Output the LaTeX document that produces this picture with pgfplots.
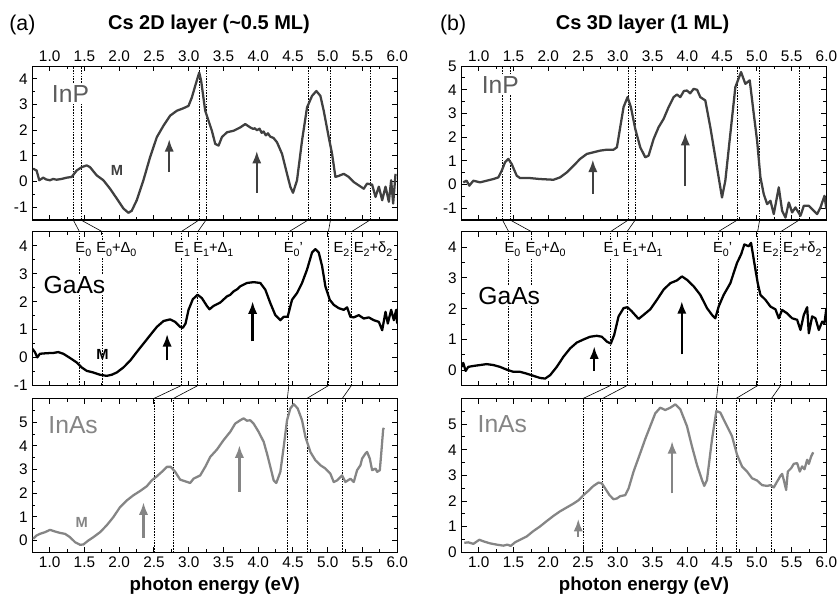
\documentclass[border=0pt]{standalone}
\usepackage{fontspec}
\setmainfont{Liberation Sans}
\usepackage{pgfplots}
\pgfplotsset{compat=1.18}
\usetikzlibrary{arrows.meta}
\definecolor{inpc}{gray}{0.25}
\definecolor{inasc}{gray}{0.52}
\newcommand{\sub}[1]{\raisebox{-0.55ex}{\fontsize{8}{8}\selectfont #1}}
\tikzset{
  vline/.style={black, line width=0.45pt, dash pattern=on 1.2pt off 0.9pt},
  conn/.style={black, line width=0.45pt},
  curve/.style={line width=1.7pt, line join=round},
  arr/.style={line width=1.8pt, -{Latex[length=9.5pt,width=7pt]}},
  mat/.style={font=\fontsize{18.5}{18.5}\selectfont, fill=white, inner sep=1pt, anchor=base west},
  elab/.style={font=\fontsize{11}{11}\selectfont, fill=white, inner sep=1.2pt, anchor=base west},
  mlab/.style={font=\fontsize{11}{11}\selectfont\bfseries},
}
\pgfplotsset{
  panel/.style={
    scale only axis, width=273.7pt, height=115.4pt,
    xmin=0.75, xmax=6.0,
    xtick={1,1.5,2,2.5,3,3.5,4,4.5,5,5.5,6},
    minor xtick={1.25,1.75,2.25,2.75,3.25,3.75,4.25,4.75,5.25,5.75},
    tick align=inside, xtick pos=both, ytick pos=both, yticklabel pos=left,
    major tick length=3.8pt, minor tick length=2.3pt,
    tick style={black, line width=0.7pt},
    axis line style={line width=0.9pt},
    tick label style={font=\fontsize{11.5}{12}\selectfont},
    /pgf/number format/assume math mode=true,
    xticklabel style={/pgf/number format/.cd, fixed, fixed zerofill, precision=1},
    clip=true,
  },
  toppanel/.style={panel, xticklabel pos=right},
  midpanel/.style={panel, xticklabels={}},
  botpanel/.style={panel, xticklabel pos=left,
    xlabel={photon energy (eV)},
    xlabel style={font=\fontsize{14}{14}\selectfont\bfseries}},
}
\begin{document}
\begin{tikzpicture}
\useasboundingbox (0,0) rectangle (630pt,449.25pt);

% ================= LEFT: InP =================
\begin{axis}[toppanel, at={(24.2pt,284.25pt)}, anchor=south west,
  ymin=-1.5, ymax=4.5, ytick={-1,0,1,2,3,4}, minor ytick={-0.5,0.5,1.5,2.5,3.5}]
\foreach \e in {1.34,1.45,3.15,3.25,4.72,5.04,5.61}{\edef\tmp{\noexpand\draw[vline] (axis cs:\e,-1.5) -- (axis cs:\e,4.5);}\tmp}
\coordinate (aP1) at (axis cs:1.34,-1.5);
\coordinate (aP2) at (axis cs:1.45,-1.5);
\coordinate (aP3) at (axis cs:3.15,-1.5);
\coordinate (aP4) at (axis cs:3.25,-1.5);
\coordinate (aP5) at (axis cs:4.72,-1.5);
\coordinate (aP6) at (axis cs:5.04,-1.5);
\coordinate (aP7) at (axis cs:5.61,-1.5);
\node[mat, text=inpc!85!white] at (axis cs:1.01,3.08) {InP};
\addplot[curve, inpc] coordinates {
(0.764,0.50) (0.812,0.43) (0.851,0.05) (0.908,0.15) (0.95,0.08) (1.005,0.05) (1.05,0.10)
(1.101,0.07) (1.17,0.10) (1.245,0.15) (1.317,0.18) (1.389,0.43) (1.461,0.56) (1.533,0.63)
(1.581,0.56) (1.677,0.24) (1.773,0.05) (1.869,-0.28) (1.965,-0.66) (2.061,-1.05) (2.133,-1.22)
(2.181,-1.14) (2.253,-0.73) (2.349,0.05) (2.445,0.95) (2.542,1.73) (2.638,2.18) (2.734,2.57)
(2.830,2.76) (2.926,2.86) (2.998,2.95) (3.046,3.28) (3.094,3.73) (3.152,4.25) (3.180,3.92)
(3.238,2.76) (3.286,2.37) (3.334,1.98) (3.382,1.47) (3.430,1.40) (3.478,1.73) (3.550,1.92)
(3.646,1.98) (3.742,2.11) (3.814,2.24) (3.886,2.11) (3.93,2.05) (3.95,2.08) (3.982,2.00)
(4.02,2.06) (4.05,1.90) (4.078,1.95) (4.11,1.80) (4.14,1.88) (4.174,1.75) (4.22,1.70)
(4.271,1.53) (4.343,1.08) (4.415,0.30) (4.463,-0.21) (4.501,-0.44) (4.559,0.05) (4.631,1.60)
(4.703,2.89) (4.775,3.34) (4.837,3.53) (4.895,3.34) (4.943,2.76) (5.015,1.73) (5.063,1.08)
(5.111,0.18) (5.159,0.22) (5.231,0.30) (5.303,0.18) (5.375,-0.02) (5.447,-0.15) (5.519,-0.28)
(5.567,-0.08) (5.639,-0.12) (5.688,-0.60) (5.736,-0.20) (5.784,-0.73) (5.832,-0.20) (5.880,-0.79)
(5.913,0.05) (5.942,-0.86) (5.976,0.30)};
\draw[arr, inpc] (axis cs:2.72,0.37) -- (axis cs:2.72,1.66);
\draw[arr, inpc] (axis cs:3.98,-0.44) -- (axis cs:3.98,1.2);
\node[mlab, text=inpc] at (axis cs:1.97,0.43) {M};
\end{axis}

% ================= LEFT: GaAs =================
\begin{axis}[midpanel, at={(24.2pt,160pt)}, anchor=south west,
  ymin=-1, ymax=4.5, ytick={-1,0,1,2,3,4}, minor ytick={-0.5,0.5,1.5,2.5,3.5}]
\foreach \e in {1.43,1.76,2.89,3.13,4.44,5.01,5.34}{\edef\tmp{\noexpand\draw[vline] (axis cs:\e,-1) -- (axis cs:\e,4.5);}\tmp}
\coordinate (aG1) at (axis cs:1.43,4.5);
\coordinate (aG2) at (axis cs:1.76,4.5);
\coordinate (aG3) at (axis cs:2.89,4.5);
\coordinate (aG4) at (axis cs:3.13,4.5);
\coordinate (aG5) at (axis cs:4.44,4.5);
\coordinate (aG6) at (axis cs:5.01,4.5);
\coordinate (aG7) at (axis cs:5.34,4.5);
\coordinate (aH3) at (axis cs:2.89,-1);
\coordinate (aH4) at (axis cs:3.13,-1);
\coordinate (aH5) at (axis cs:4.44,-1);
\coordinate (aH6) at (axis cs:5.01,-1);
\coordinate (aH7) at (axis cs:5.34,-1);
\node[elab] at (axis cs:1.345,3.77) {E\sub{0}};
\node[elab] at (axis cs:1.645,3.77) {E\sub{0}+Δ\sub{0}};
\node[elab] at (axis cs:2.768,3.77) {E\sub{1}};
\node[elab] at (axis cs:3.04,3.77) {E\sub{1}+Δ\sub{1}};
\node[elab] at (axis cs:4.344,3.77) {E\sub{0}'};
\node[elab] at (axis cs:5.057,3.77) {E\sub{2}};
\node[elab] at (axis cs:5.35,3.77) {E\sub{2}+δ\sub{2}};
\node[mat] at (axis cs:0.89,2.29) {GaAs};
\addplot[curve, black] coordinates {
(0.75,0.32) (0.788,0.20) (0.822,0.01) (0.860,0.14) (0.957,0.16) (1.053,0.17) (1.125,0.20)
(1.197,0.14) (1.293,-0.01) (1.389,-0.17) (1.461,-0.35) (1.533,-0.47) (1.629,-0.53) (1.725,-0.61)
(1.821,-0.65) (1.893,-0.61) (1.965,-0.53) (2.061,-0.35) (2.157,-0.11) (2.253,0.20) (2.349,0.50)
(2.445,0.80) (2.542,1.10) (2.638,1.31) (2.734,1.37) (2.806,1.28) (2.878,1.10) (2.916,1.07)
(2.955,1.22) (2.998,1.71) (3.060,2.09) (3.128,2.25) (3.190,2.13) (3.262,1.85) (3.300,1.73)
(3.358,1.85) (3.454,1.97) (3.550,2.19) (3.600,2.25) (3.646,2.37) (3.70,2.45) (3.742,2.55) (3.838,2.67)
(3.935,2.70) (4.031,2.67) (4.103,2.43) (4.175,1.95) (4.247,1.52) (4.319,1.34) (4.367,1.46)
(4.424,1.46) (4.487,2.07) (4.559,2.31) (4.631,2.67) (4.703,3.15) (4.775,3.76) (4.823,3.88)
(4.871,3.76) (4.919,3.28) (4.967,2.55) (5.030,2.07) (5.087,1.89) (5.159,1.77) (5.231,1.71)
(5.279,1.80) (5.327,1.46) (5.375,1.44) (5.447,1.52) (5.519,1.40) (5.591,1.44) (5.663,1.34)
(5.736,1.28) (5.784,0.98) (5.832,1.64) (5.865,1.22) (5.913,1.71) (5.952,1.34) (5.985,1.71) (6.0,1.22)};
\draw[arr, black] (axis cs:2.69,-0.1) -- (axis cs:2.69,0.85);
\draw[arr, black] (axis cs:3.92,0.58) -- (axis cs:3.92,2.02);
\node[mlab] at (axis cs:1.76,0.1) {M};
\end{axis}

% ================= LEFT: InAs =================
\begin{axis}[botpanel, at={(24.2pt,35pt)}, anchor=south west,
  ymin=-0.5, ymax=6, ytick={0,1,2,3,4,5}, minor ytick={0.5,1.5,2.5,3.5,4.5,5.5}]
\foreach \e in {2.50,2.78,4.42,4.70,5.21}{\edef\tmp{\noexpand\draw[vline] (axis cs:\e,-0.5) -- (axis cs:\e,6);}\tmp}
\coordinate (aA3) at (axis cs:2.50,6);
\coordinate (aA4) at (axis cs:2.78,6);
\coordinate (aA5) at (axis cs:4.42,6);
\coordinate (aA6) at (axis cs:4.70,6);
\coordinate (aA7) at (axis cs:5.21,6);
\node[mat, text=inasc] at (axis cs:0.96,4.53) {InAs};
\addplot[curve, inasc] coordinates {
(0.764,0.07) (0.812,0.21) (0.860,0.28) (0.933,0.35) (1.005,0.45) (1.077,0.38) (1.149,0.32)
(1.221,0.28) (1.293,0.14) (1.365,-0.07) (1.437,-0.18) (1.485,-0.17) (1.557,0.0) (1.629,0.14)
(1.725,0.35) (1.821,0.64) (1.917,0.99) (2.013,1.41) (2.109,1.69) (2.205,1.91) (2.301,2.09)
(2.397,2.29) (2.469,2.54) (2.542,2.71) (2.614,2.90) (2.686,3.11) (2.743,3.11) (2.806,2.90)
(2.878,2.57) (2.950,2.50) (3.022,2.43) (3.070,2.61) (3.166,2.75) (3.238,3.11) (3.310,3.53)
(3.406,3.84) (3.502,4.24) (3.598,4.59) (3.670,4.94) (3.742,5.08) (3.790,5.16) (3.838,5.06)
(3.886,5.08) (3.934,4.94) (4.006,4.59) (4.079,4.17) (4.127,3.67) (4.175,3.11) (4.223,2.54)
(4.261,2.43) (4.319,2.90) (4.367,3.95) (4.415,5.08) (4.463,5.58) (4.511,5.76) (4.568,5.58)
(4.631,5.08) (4.679,4.38) (4.751,3.74) (4.823,3.39) (4.895,3.18) (4.967,3.04) (5.039,2.82)
(5.087,2.47) (5.135,2.54) (5.207,2.75) (5.255,2.47) (5.327,2.61) (5.375,2.47) (5.423,2.97)
(5.471,3.18) (5.495,3.46) (5.543,3.67) (5.567,3.74) (5.606,3.46) (5.639,2.97) (5.688,3.04)
(5.712,2.90) (5.750,2.97) (5.774,3.81) (5.798,4.69) (5.808,4.76)};
\draw[arr, inasc] (axis cs:2.35,0.11) -- (axis cs:2.35,1.62);
\draw[arr, inasc] (axis cs:3.73,2.05) -- (axis cs:3.73,4.03);
\node[mlab, text=inasc] at (axis cs:1.46,0.78) {M};
\end{axis}

% ================= RIGHT: InP =================
\begin{axis}[toppanel, at={(346.1pt,284.25pt)}, anchor=south west,
  ymin=-1.5, ymax=5, ytick={-1,0,1,2,3,4,5}, minor ytick={-0.5,0.5,1.5,2.5,3.5,4.5}]
\foreach \e in {1.34,1.45,3.15,3.25,4.72,5.04,5.61}{\edef\tmp{\noexpand\draw[vline] (axis cs:\e,-1.5) -- (axis cs:\e,5);}\tmp}
\coordinate (bP1) at (axis cs:1.34,-1.5);
\coordinate (bP2) at (axis cs:1.45,-1.5);
\coordinate (bP3) at (axis cs:3.15,-1.5);
\coordinate (bP4) at (axis cs:3.25,-1.5);
\coordinate (bP5) at (axis cs:4.72,-1.5);
\coordinate (bP6) at (axis cs:5.04,-1.5);
\coordinate (bP7) at (axis cs:5.61,-1.5);
\node[mat, text=inpc!85!white] at (axis cs:1.02,3.83) {InP};
\addplot[curve, inpc] coordinates {
(0.776,0.09) (0.824,0.16) (0.863,-0.05) (0.921,0.16) (1.017,0.09) (1.113,0.16) (1.209,0.23)
(1.281,0.30) (1.329,0.58) (1.377,0.94) (1.425,1.08) (1.473,0.86) (1.545,0.37) (1.593,0.27)
(1.737,0.27) (1.881,0.23) (2.073,0.20) (2.169,0.30) (2.265,0.51) (2.361,0.79) (2.457,1.08)
(2.553,1.29) (2.649,1.36) (2.745,1.43) (2.842,1.47) (2.938,1.47) (2.986,1.57) (3.034,2.42)
(3.082,3.27) (3.139,3.69) (3.187,3.27) (3.250,2.35) (3.322,1.57) (3.394,1.15) (3.442,1.22)
(3.514,1.92) (3.586,2.42) (3.658,2.77) (3.730,3.27) (3.802,3.69) (3.85,3.80) (3.898,3.69)
(3.95,3.95) (3.994,3.97) (4.04,3.85) (4.090,4.04) (4.14,4.00) (4.186,3.69) (4.258,3.55)
(4.330,2.42) (4.378,1.57) (4.450,0.30) (4.498,-0.55) (4.546,0.16) (4.618,2.14) (4.690,4.11)
(4.772,4.75) (4.834,4.25) (4.897,4.40) (4.955,2.98) (5.003,1.85) (5.051,0.30) (5.099,-0.41)
(5.147,-0.83) (5.195,-0.69) (5.243,-1.25) (5.315,-0.12) (5.363,-1.11) (5.411,-1.40) (5.459,-0.76)
(5.507,-1.18) (5.555,-0.97) (5.627,-1.32) (5.675,-0.90) (5.747,-0.90) (5.819,-1.11) (5.867,-1.25)
(5.915,-0.97) (5.972,-0.48) (6.0,-1.04)};
\draw[arr, inpc] (axis cs:2.64,-0.4) -- (axis cs:2.64,1.06);
\draw[arr, inpc] (axis cs:3.97,-0.07) -- (axis cs:3.97,2.19);
\end{axis}

% ================= RIGHT: GaAs =================
\begin{axis}[midpanel, at={(346.1pt,160pt)}, anchor=south west,
  ymin=-0.5, ymax=4.5, ytick={0,1,2,3,4}, minor ytick={0.5,1.5,2.5,3.5}]
\foreach \e in {1.43,1.76,2.89,3.13,4.44,5.01,5.34}{\edef\tmp{\noexpand\draw[vline] (axis cs:\e,-0.5) -- (axis cs:\e,4.5);}\tmp}
\coordinate (bG1) at (axis cs:1.43,4.5);
\coordinate (bG2) at (axis cs:1.76,4.5);
\coordinate (bG3) at (axis cs:2.89,4.5);
\coordinate (bG4) at (axis cs:3.13,4.5);
\coordinate (bG5) at (axis cs:4.44,4.5);
\coordinate (bG6) at (axis cs:5.01,4.5);
\coordinate (bG7) at (axis cs:5.34,4.5);
\coordinate (bH3) at (axis cs:2.89,-0.5);
\coordinate (bH4) at (axis cs:3.13,-0.5);
\coordinate (bH5) at (axis cs:4.44,-0.5);
\coordinate (bH6) at (axis cs:5.01,-0.5);
\coordinate (bH7) at (axis cs:5.34,-0.5);
\node[elab] at (axis cs:1.345,3.82) {E\sub{0}};
\node[elab] at (axis cs:1.645,3.82) {E\sub{0}+Δ\sub{0}};
\node[elab] at (axis cs:2.768,3.82) {E\sub{1}};
\node[elab] at (axis cs:3.04,3.82) {E\sub{1}+Δ\sub{1}};
\node[elab] at (axis cs:4.344,3.82) {E\sub{0}'};
\node[elab] at (axis cs:5.057,3.82) {E\sub{2}};
\node[elab] at (axis cs:5.35,3.82) {E\sub{2}+δ\sub{2}};
\node[mat] at (axis cs:0.97,2.13) {GaAs};
\addplot[curve, black] coordinates {
(0.752,0.11) (0.776,0.24) (0.810,-0.02) (0.848,0.11) (0.921,0.14) (1.017,0.17) (1.113,0.20)
(1.209,0.17) (1.305,0.11) (1.401,0.02) (1.497,-0.05) (1.593,-0.05) (1.689,-0.11) (1.785,-0.18)
(1.881,-0.25) (1.953,-0.27) (2.025,-0.16) (2.121,0.11) (2.217,0.44) (2.313,0.71) (2.409,0.90)
(2.505,1.00) (2.601,1.09) (2.697,1.12) (2.769,1.09) (2.842,0.93) (2.899,0.87) (2.947,1.15)
(3.010,1.75) (3.082,2.02) (3.139,2.05) (3.202,1.91) (3.298,1.67) (3.370,1.80) (3.466,1.98)
(3.562,2.29) (3.658,2.62) (3.754,2.83) (3.850,2.92) (3.922,3.05) (3.994,2.94) (4.090,2.73)
(4.186,2.45) (4.282,2.02) (4.354,1.80) (4.402,1.69) (4.450,2.07) (4.522,2.45) (4.618,2.83)
(4.714,3.49) (4.772,3.76) (4.820,4.09) (4.882,4.03) (4.916,4.14) (4.955,3.60) (5.012,2.83)
(5.051,2.45) (5.123,2.29) (5.195,2.07) (5.267,1.98) (5.315,1.69) (5.363,1.96) (5.435,1.85)
(5.507,1.69) (5.579,1.64) (5.627,1.31) (5.675,1.80) (5.723,2.05) (5.747,1.20) (5.795,1.75)
(5.843,1.69) (5.891,1.31) (5.939,1.58) (5.972,1.53) (6.0,2.02)};
\draw[arr, black] (axis cs:2.66,-0.02) -- (axis cs:2.66,0.78);
\draw[arr, black] (axis cs:3.92,0.52) -- (axis cs:3.92,2.25);
\end{axis}

% ================= RIGHT: InAs =================
\begin{axis}[botpanel, at={(346.1pt,35pt)}, anchor=south west,
  ymin=0, ymax=6, ytick={0,1,2,3,4,5}, minor ytick={0.5,1.5,2.5,3.5,4.5,5.5}]
\foreach \e in {2.50,2.78,4.42,4.70,5.21}{\edef\tmp{\noexpand\draw[vline] (axis cs:\e,0) -- (axis cs:\e,6);}\tmp}
\coordinate (bA3) at (axis cs:2.50,6);
\coordinate (bA4) at (axis cs:2.78,6);
\coordinate (bA5) at (axis cs:4.42,6);
\coordinate (bA6) at (axis cs:4.70,6);
\coordinate (bA7) at (axis cs:5.21,6);
\node[mat, text=inasc] at (axis cs:0.96,4.67) {InAs};
\addplot[curve, inasc] coordinates {
(0.791,0.37) (0.848,0.39) (0.921,0.33) (1.007,0.49) (1.065,0.43) (1.161,0.35) (1.257,0.30)
(1.353,0.26) (1.410,0.30) (1.458,0.25) (1.521,0.39) (1.593,0.49) (1.689,0.62) (1.785,0.83)
(1.881,1.01) (1.977,1.22) (2.073,1.42) (2.169,1.60) (2.265,1.75) (2.361,1.90) (2.433,2.03)
(2.505,2.23) (2.577,2.40) (2.649,2.59) (2.721,2.72) (2.769,2.69) (2.818,2.49) (2.880,2.23)
(2.938,2.07) (2.986,2.10) (3.034,2.19) (3.106,2.23) (3.154,2.49) (3.226,3.15) (3.322,3.87)
(3.394,4.42) (3.466,4.92) (3.538,5.42) (3.610,5.64) (3.682,5.55) (3.754,5.64) (3.826,5.77)
(3.898,5.58) (3.994,4.92) (4.066,4.13) (4.138,3.41) (4.210,2.82) (4.243,2.59) (4.282,2.82)
(4.354,4.40) (4.417,5.51) (4.474,5.45) (4.546,5.05) (4.642,4.53) (4.714,3.81) (4.786,3.35)
(4.858,3.15) (4.930,2.89) (5.003,2.80) (5.075,2.62) (5.147,2.59) (5.195,2.62) (5.243,2.53)
(5.291,2.76) (5.339,2.98) (5.363,3.06) (5.387,2.82) (5.421,2.43) (5.445,3.15) (5.493,3.28)
(5.531,3.45) (5.579,3.48) (5.617,3.15) (5.651,3.35) (5.685,3.24) (5.723,3.61) (5.747,3.45)
(5.781,3.74) (5.810,3.90)};
\draw[arr, inasc] (axis cs:2.43,0.61) -- (axis cs:2.43,1.31);
\draw[arr, inasc] (axis cs:3.78,2.30) -- (axis cs:3.78,4.34);
\end{axis}

% connectors
\foreach \i in {1,...,7}{\draw[conn] (aP\i) -- (aG\i); \draw[conn] (bP\i) -- (bG\i);}
\foreach \i in {3,...,7}{\draw[conn] (aH\i) -- (aA\i); \draw[conn] (bH\i) -- (bA\i);}

% titles
\node[anchor=base west, font=\fontsize{16}{16}\selectfont] at (3.5pt,426.5pt) {(a)};
\node[anchor=base, font=\fontsize{15}{15}\selectfont\bfseries] at (156.75pt,426.75pt) {Cs 2D layer (\textasciitilde0.5 ML)};
\node[anchor=base west, font=\fontsize{16}{16}\selectfont] at (326.5pt,426.5pt) {(b)};
\node[anchor=base, font=\fontsize{15}{15}\selectfont\bfseries] at (481.9pt,426.75pt) {Cs 3D layer (1 ML)};
\end{tikzpicture}
\end{document}
